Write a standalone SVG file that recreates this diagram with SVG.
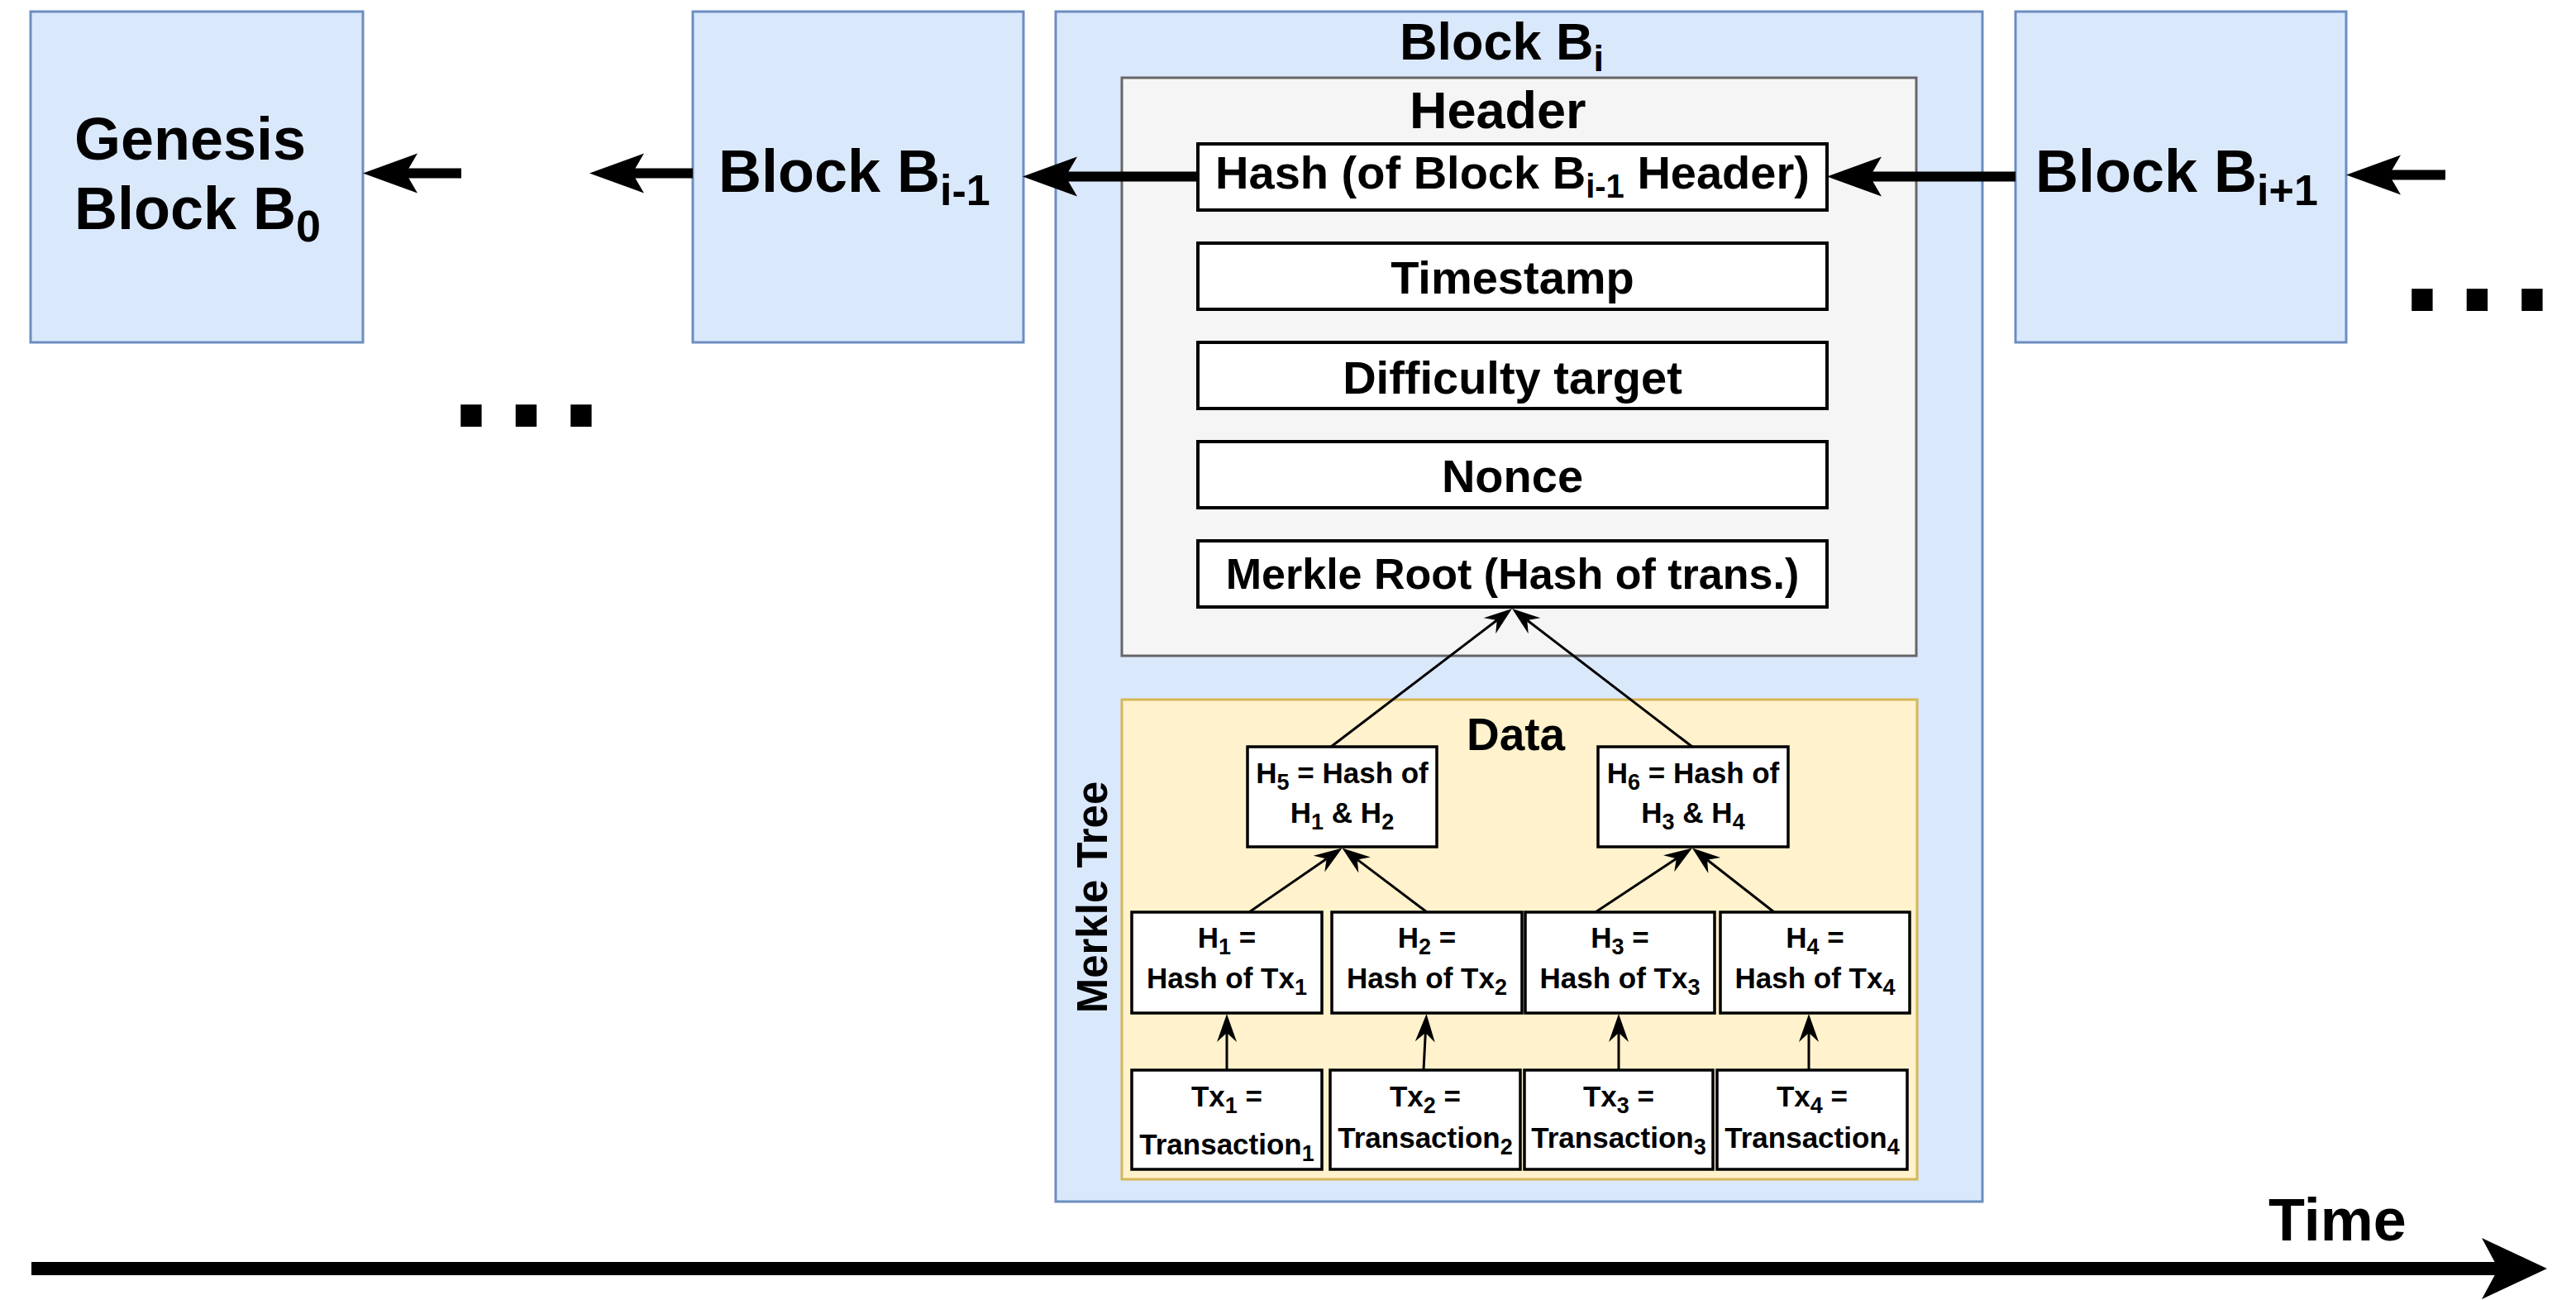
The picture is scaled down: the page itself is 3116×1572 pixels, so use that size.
<svg xmlns="http://www.w3.org/2000/svg" width="3116" height="1572" viewBox="0 0 3116 1572">
<style>
.blue{fill:#dae8fc;stroke:#6c8ebf;stroke-width:3}
.hdr{fill:#f5f5f5;stroke:#666666;stroke-width:3}
.data{fill:#fff2cc;stroke:#d6b656;stroke-width:3}
.field{fill:#ffffff;stroke:#000000;stroke-width:4}
.node{fill:#ffffff;stroke:#000000;stroke-width:3.5}
text{font-family:'Liberation Sans',Arial,Helvetica,sans-serif;font-weight:bold;fill:#000000}
.big{font-size:72px}
.f56{font-size:56px;text-anchor:middle}
.sm{font-size:35px;text-anchor:middle}
.thick{stroke:#000;stroke-width:12;fill:none;marker-end:url(#ahThick)}
.thin{stroke:#000;stroke-width:3;fill:none;marker-end:url(#ahThin)}
.time{stroke:#000;stroke-width:16;fill:none;marker-end:url(#ahTime)}
</style>
<defs>
<marker id="ahThick" markerUnits="userSpaceOnUse" viewBox="-15 -25 68 50" markerWidth="68" markerHeight="50" refX="0" refY="0" orient="auto">
<path d="M52,0 L-14,-24 L0,0 L-14,24 Z" fill="#000"/>
</marker>
<marker id="ahThin" markerUnits="userSpaceOnUse" viewBox="-12 -13 36 26" markerWidth="36" markerHeight="26" refX="0" refY="0" orient="auto">
<path d="M23,0 L-11,-12 L0,0 L-11,12 Z" fill="#000"/>
</marker>
<marker id="ahTime" markerUnits="userSpaceOnUse" viewBox="-21 -38 82 76" markerWidth="82" markerHeight="76" refX="0" refY="0" orient="auto">
<path d="M59,0 L-20,-37 L0,0 L-20,37 Z" fill="#000"/>
</marker>
</defs>

<g id="block-genesis">
<rect class="blue" x="37" y="14" width="402" height="400"/>
<text class="big" x="90" y="193">Genesis</text>
<text class="big" x="90" y="277">Block B<tspan font-size="54" dy="15">0</tspan></text>
</g>

<g id="dots-left">
<text x="545" y="516" font-size="180" letter-spacing="16.5">...</text>
</g>

<g id="block-prev">
<rect class="blue" x="838" y="14" width="400" height="400"/>
<text class="big" x="869" y="232">Block B<tspan font-size="52" dy="16">i-1</tspan></text>
</g>

<g id="block-i">
<rect class="blue" x="1277" y="14" width="1121" height="1439"/>
<text x="1693" y="72" font-size="63">Block B<tspan font-size="45" dy="14">i</tspan></text>
</g>

<g id="header">
<rect class="hdr" x="1357" y="94" width="961" height="699"/>
<text x="1705" y="155" font-size="63">Header</text>
</g>

<g id="field-hash">
<rect class="field" x="1449" y="174" width="761" height="80"/>
<text class="f56" x="1829.5" y="228">Hash (of Block B<tspan font-size="40" dy="11">i-1</tspan><tspan dy="-11"> Header)</tspan></text>
</g>
<g id="field-timestamp">
<rect class="field" x="1449" y="294" width="761" height="80"/>
<text class="f56" x="1829.5" y="355">Timestamp</text>
</g>
<g id="field-difficulty">
<rect class="field" x="1449" y="414" width="761" height="80"/>
<text class="f56" x="1829.5" y="476">Difficulty target</text>
</g>
<g id="field-nonce">
<rect class="field" x="1449" y="534" width="761" height="80"/>
<text class="f56" x="1829.5" y="595">Nonce</text>
</g>
<g id="field-merkle-root">
<rect class="field" x="1449" y="654" width="761" height="80"/>
<text x="1829.5" y="712" font-size="52" text-anchor="middle">Merkle Root (Hash of trans.)</text>
</g>

<g id="data">
<rect class="data" x="1357" y="846" width="962" height="580"/>
<text x="1774" y="907" font-size="55">Data</text>
<text transform="translate(1339,1085) rotate(-90)" x="0" y="0" font-size="51" text-anchor="middle">Merkle Tree</text>
</g>

<g id="h5">
<rect class="node" x="1509" y="903" width="229" height="121"/>
<text class="sm" x="1623.5" y="947">H<tspan font-size="27" dy="8">5</tspan><tspan dy="-8"> = Hash of</tspan></text>
<text class="sm" x="1623.5" y="995">H<tspan font-size="27" dy="8">1</tspan><tspan dy="-8"> &amp; H</tspan><tspan font-size="27" dy="8">2</tspan></text>
</g>
<g id="h6">
<rect class="node" x="1933" y="903" width="230" height="121"/>
<text class="sm" x="2048" y="947">H<tspan font-size="27" dy="8">6</tspan><tspan dy="-8"> = Hash of</tspan></text>
<text class="sm" x="2048" y="995">H<tspan font-size="27" dy="8">3</tspan><tspan dy="-8"> &amp; H</tspan><tspan font-size="27" dy="8">4</tspan></text>
</g>

<g id="h1">
<rect class="node" x="1369" y="1103" width="230" height="122"/>
<text class="sm" x="1484" y="1146">H<tspan font-size="27" dy="8">1</tspan><tspan dy="-8"> =</tspan></text>
<text class="sm" x="1484" y="1195">Hash of Tx<tspan font-size="27" dy="8">1</tspan></text>
</g>
<g id="h2">
<rect class="node" x="1611" y="1103" width="230" height="122"/>
<text class="sm" x="1726" y="1146">H<tspan font-size="27" dy="8">2</tspan><tspan dy="-8"> =</tspan></text>
<text class="sm" x="1726" y="1195">Hash of Tx<tspan font-size="27" dy="8">2</tspan></text>
</g>
<g id="h3">
<rect class="node" x="1845" y="1103" width="229" height="122"/>
<text class="sm" x="1959.5" y="1146">H<tspan font-size="27" dy="8">3</tspan><tspan dy="-8"> =</tspan></text>
<text class="sm" x="1959.5" y="1195">Hash of Tx<tspan font-size="27" dy="8">3</tspan></text>
</g>
<g id="h4">
<rect class="node" x="2081" y="1103" width="229" height="122"/>
<text class="sm" x="2195.5" y="1146">H<tspan font-size="27" dy="8">4</tspan><tspan dy="-8"> =</tspan></text>
<text class="sm" x="2195.5" y="1195">Hash of Tx<tspan font-size="27" dy="8">4</tspan></text>
</g>

<g id="tx1">
<rect class="node" x="1369" y="1294" width="230" height="120"/>
<text class="sm" x="1484" y="1338">Tx<tspan font-size="27" dy="8">1</tspan><tspan dy="-8"> =</tspan></text>
<text class="sm" x="1484" y="1396">Transaction<tspan font-size="27" dy="8">1</tspan></text>
</g>
<g id="tx2">
<rect class="node" x="1609" y="1294" width="230" height="120"/>
<text class="sm" x="1724" y="1338">Tx<tspan font-size="27" dy="8">2</tspan><tspan dy="-8"> =</tspan></text>
<text class="sm" x="1724" y="1388">Transaction<tspan font-size="27" dy="8">2</tspan></text>
</g>
<g id="tx3">
<rect class="node" x="1844" y="1294" width="228" height="120"/>
<text class="sm" x="1958" y="1338">Tx<tspan font-size="27" dy="8">3</tspan><tspan dy="-8"> =</tspan></text>
<text class="sm" x="1958" y="1388">Transaction<tspan font-size="27" dy="8">3</tspan></text>
</g>
<g id="tx4">
<rect class="node" x="2077" y="1294" width="230" height="120"/>
<text class="sm" x="2192" y="1338">Tx<tspan font-size="27" dy="8">4</tspan><tspan dy="-8"> =</tspan></text>
<text class="sm" x="2192" y="1388">Transaction<tspan font-size="27" dy="8">4</tspan></text>
</g>

<g id="block-next">
<rect class="blue" x="2438" y="14" width="400" height="400"/>
<text class="big" x="2462" y="232">Block B<tspan font-size="52" dy="16">i+1</tspan></text>
</g>

<g id="dots-right">
<text x="2905" y="376" font-size="180" letter-spacing="16.5">...</text>
</g>

<g id="time-label">
<text x="2744" y="1500" font-size="72">Time</text>
</g>

<g id="connectors">
<line class="thick" x1="558" y1="209.5" x2="491" y2="209.5"/>
<line class="thick" x1="838" y1="209.5" x2="765" y2="209.5"/>
<line class="thick" x1="1449" y1="213.5" x2="1289" y2="213.5"/>
<line class="thick" x1="2438" y1="213.5" x2="2262" y2="213.5"/>
<line class="thick" x1="2958" y1="211.5" x2="2890" y2="211.5"/>
<line class="thin" x1="1484" y1="1294" x2="1484" y2="1249"/>
<line class="thin" x1="1722" y1="1294" x2="1724.3" y2="1249"/>
<line class="thin" x1="1958" y1="1294" x2="1958" y2="1249"/>
<line class="thin" x1="2188" y1="1294" x2="2188" y2="1249"/>
<line class="thin" x1="1511" y1="1103" x2="1604.6" y2="1038.5"/>
<line class="thin" x1="1726" y1="1103" x2="1641.8" y2="1039.4"/>
<line class="thin" x1="1930" y1="1103" x2="2027.8" y2="1038.2"/>
<line class="thin" x1="2146" y1="1103" x2="2065.1" y2="1039.7"/>
<line class="thin" x1="1610" y1="903" x2="1810.7" y2="750"/>
<line class="thin" x1="2047" y1="903" x2="1847.3" y2="750"/>
<line class="time" x1="38" y1="1534" x2="3022" y2="1534"/>
</g>
</svg>
